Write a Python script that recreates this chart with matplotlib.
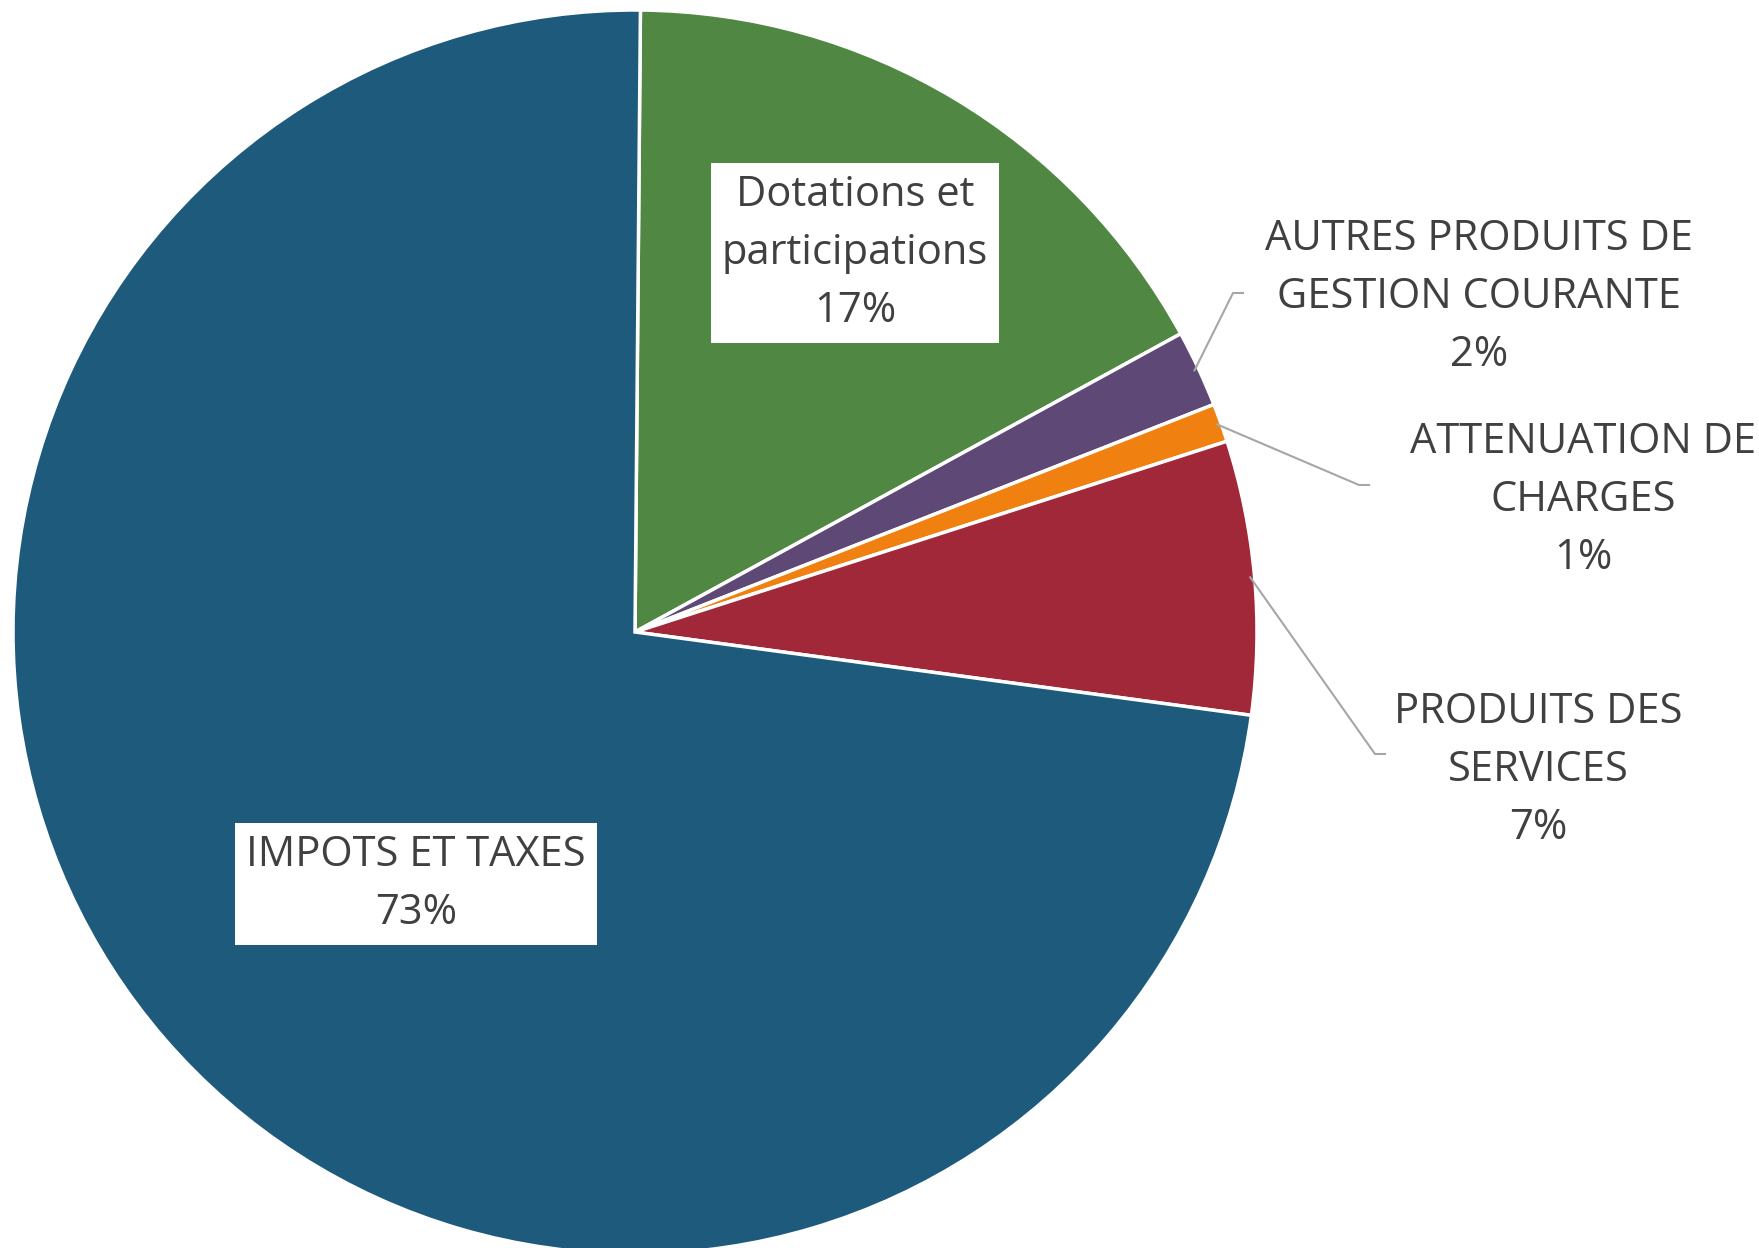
import matplotlib.pyplot as plt
import numpy as np

plt.rcParams['font.family'] = ['Open Sans', 'DejaVu Sans']

# data (shares in %, clockwise from 12 o'clock)
categories = ['Dotations et\nparticipations', 'AUTRES PRODUITS DE\nGESTION COURANTE',
              'ATTENUATION DE\nCHARGES', 'PRODUITS DES\nSERVICES', 'IMPOTS ET TAXES']
values = [16.9, 2.0, 1.0, 7.1, 73.0]
colors = ['#4F8743', '#5E4876', '#F0800F', '#A02838', '#1E5A7C']

W, H = 1759, 1248
cx, cy, R = 635, H - 632, 622
text_col = '#404040'

fig = plt.figure(figsize=(W / 100, H / 100), dpi=100)
ax = fig.add_axes([0, 0, 1, 1])

wedges, _ = ax.pie(values, colors=colors, startangle=89.5, counterclock=False,
                   center=(cx, cy), radius=R, frame=True,
                   wedgeprops=dict(edgecolor='white', linewidth=2.5))
ax.set_xlim(0, W)
ax.set_ylim(0, H)
ax.set_aspect('equal')
ax.axis('off')

total = sum(values)
pcts = ['%d%%' % round(v / total * 100) for v in values]

# label placement: (x, y) in pixel coords from top, inside-box flag
label_pos = [(855, 253), (1479, 297), (1583, 500), (1538, 770), (416, 884)]
boxed = [True, False, False, False, True]
elbows = [None, (1233, 293), (1359, 485), (1375, 754), None]

for i, (lab, p) in enumerate(zip(categories, pcts)):
    x, y = label_pos[i]
    kw = {}
    if boxed[i]:
        kw['bbox'] = dict(boxstyle='square,pad=0.26', fc='white', ec='none')
    ax.text(x, H - y, lab + '\n' + p, ha='center', va='center', fontsize=30,
            color=text_col, linespacing=1.5, **kw)
    if elbows[i] is not None:
        w = wedges[i]
        mid = np.deg2rad((w.theta1 + w.theta2) / 2)
        sx, sy = cx + 0.993 * R * np.cos(mid), cy + 0.993 * R * np.sin(mid)
        ex, ey = elbows[i]
        ax.plot([sx, ex, ex + 10], [sy, H - ey, H - ey], color='#A6A6A6', lw=1.5,
                solid_joinstyle='miter')

fig.savefig('out.png', dpi=100, facecolor='white')
